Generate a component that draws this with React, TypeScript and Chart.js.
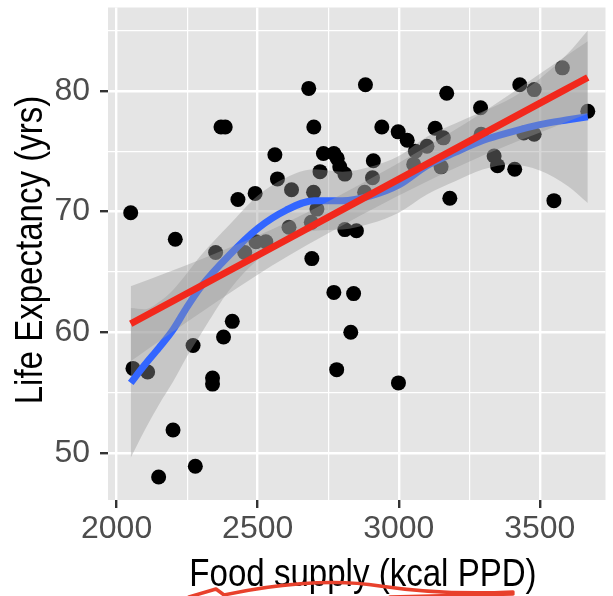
import React, { useEffect, useRef } from "react";
import { Chart, registerables } from "chart.js";

Chart.register(...registerables);

// Scatter data: food supply (kcal per person per day) vs life expectancy (years)
const foodSupply = [
  2050, 2058, 2110, 2149, 2200, 2208, 2271, 2279, 2340, 2340,
  2351, 2370, 2385, 2379, 2410, 2430, 2454, 2491, 2494, 2529,
  2561, 2570, 2611, 2620, 2681, 2690, 2692, 2698, 2699, 2710,
  2721, 2733, 2770, 2770, 2780, 2782, 2791, 2809, 2809, 2830,
  2840, 2850, 2879, 2882, 2907, 2910, 2940, 2998, 2999, 3030,
  3053, 3059, 3100, 3129, 3150, 3158, 3170, 3181, 3290, 3292,
  3338, 3350, 3411, 3429, 3443, 3480, 3480, 3550, 3580, 3670,
];
const lifeExpectancy = [
  69.9, 57.0, 56.7, 48.0, 51.9, 67.7, 58.9, 48.9, 56.2, 55.7,
  66.6, 77.0, 77.0, 59.6, 60.9, 71.0, 66.6, 71.5, 67.5, 67.5,
  74.7, 72.7, 68.7, 71.8, 80.2, 69.1, 66.1, 71.6, 77.0, 70.2,
  73.3, 74.8, 74.8, 63.3, 56.9, 74.4, 73.7, 73.1, 68.5, 60.0,
  63.2, 68.4, 71.6, 80.5, 72.8, 74.2, 77.0, 76.6, 55.8, 75.9,
  73.9, 75.0, 75.4, 76.9, 73.7, 76.1, 79.8, 71.1, 78.6, 76.4,
  74.6, 73.8, 73.5, 80.5, 76.5, 80.1, 76.4, 70.9, 81.9, 78.3,
];

// LOESS smooth (blue) with its confidence band
const loessX = [2050, 2100, 2150, 2200, 2250, 2300, 2400, 2500, 2600, 2700, 2800, 2900, 3000, 3100, 3200, 3300, 3400, 3500, 3600, 3670];
const loessFit = [55.8, 57.3, 58.7, 60.2, 62.1, 63.8, 66.4, 68.6, 70.1, 70.9, 70.9, 71.3, 72.2, 73.8, 74.9, 75.9, 76.6, 77.2, 77.6, 77.85];
const loessUpper = [62.0, 61.9, 62.5, 63.5, 64.9, 66.4, 68.9, 71.3, 72.8, 73.5, 73.3, 73.7, 74.6, 76.2, 77.3, 78.3, 79.4, 81.0, 83.1, 85.0];
const loessLower = [49.6, 51.9, 54.0, 55.9, 58.0, 59.9, 63.5, 66.0, 67.6, 68.4, 68.5, 69.0, 69.9, 71.4, 72.5, 73.5, 73.9, 73.4, 72.1, 70.7];

// Linear fit (red) with its confidence band
const lmX = [2050, 2300, 2550, 2800, 3050, 3300, 3550, 3670];
const lmFit = [60.7, 63.85, 67.0, 70.15, 73.3, 76.45, 79.6, 81.1];
const lmUpper = [63.8, 66.05, 68.5, 71.45, 74.7, 78.25, 82.2, 84.1];
const lmLower = [57.6, 61.65, 65.5, 68.85, 71.9, 74.65, 77.0, 78.1];

// Axis ticks (major are labelled, the rest are minor grid lines)
const xGridValues = [2000, 2250, 2500, 2750, 3000, 3250, 3500];
const yGridValues = [50, 55, 60, 65, 70, 75, 80, 85];
const xMajorTicks = [2000, 2500, 3000, 3500];
const yMajorTicks = [50, 60, 70, 80];

const xTitle = "Food supply (kcal PPD)";
const yTitle = "Life Expectancy (yrs)";

const zip = (xs: number[], ys: number[]) => xs.map((x, i) => ({ x, y: ys[i] }));

const RIBBON = "rgba(153,153,153,0.4)";

const panelPlugin = {
  id: "panelBg",
  beforeDraw(chart: any) {
    const { ctx, chartArea } = chart;
    ctx.save();
    ctx.fillStyle = "#E5E5E5";
    ctx.fillRect(chartArea.left, chartArea.top, chartArea.right - chartArea.left, chartArea.bottom - chartArea.top);
    ctx.restore();
  },
};

const titlesPlugin = {
  id: "axisTitles",
  afterDraw(chart: any) {
    const { ctx } = chart;
    ctx.save();
    ctx.fillStyle = "#000000";
    ctx.font = "38px 'Liberation Sans', Arial, sans-serif";
    ctx.textAlign = "center";
    ctx.textBaseline = "alphabetic";
    ctx.save();
    ctx.translate(363, 586);
    ctx.scale(0.87, 1);
    ctx.fillText(xTitle, 0, 0);
    ctx.restore();
    ctx.save();
    ctx.translate(42, 250);
    ctx.rotate(-Math.PI / 2);
    ctx.scale(0.87, 1);
    ctx.fillText(yTitle, 0, 0);
    ctx.restore();
    ctx.restore();
  },
};

const squigglePlugin = {
  id: "squiggle",
  afterDraw(chart: any) {
    const { ctx } = chart;
    ctx.save();
    ctx.strokeStyle = "#E8412C";
    ctx.lineWidth = 3.5;
    ctx.lineCap = "round";
    ctx.lineJoin = "round";
    ctx.beginPath();
    ctx.moveTo(189, 597);
    ctx.lineTo(216, 589);
    ctx.lineTo(224, 595);
    ctx.bezierCurveTo(270, 585, 330, 578, 380, 586);
    ctx.bezierCurveTo(420, 592, 470, 594, 513, 592);
    ctx.stroke();
    ctx.beginPath();
    ctx.moveTo(390, 597);
    ctx.lineTo(513, 594);
    ctx.stroke();
    ctx.restore();
  },
};

export default function App() {
  const ref = useRef<HTMLCanvasElement | null>(null);

  useEffect(() => {
    if (!ref.current) return;
    const tickFont = { family: "'Liberation Sans', Arial, sans-serif", size: 32 };
    const isMajorX = (v: number) => xMajorTicks.includes(v);
    const isMajorY = (v: number) => yMajorTicks.includes(v);

    const chart = new Chart(ref.current, {
      type: "scatter",
      data: {
        datasets: [
          {
            type: "scatter",
            label: "points",
            data: zip(foodSupply, lifeExpectancy),
            backgroundColor: "#000000",
            borderWidth: 0,
            pointRadius: 7.5,
            order: 50,
          } as any,
          {
            type: "line",
            label: "loess upper",
            data: zip(loessX, loessUpper),
            borderWidth: 0,
            pointRadius: 0,
            backgroundColor: RIBBON,
            fill: "+1",
            cubicInterpolationMode: "monotone",
            order: 40,
          },
          {
            type: "line",
            label: "loess lower",
            data: zip(loessX, loessLower),
            borderWidth: 0,
            pointRadius: 0,
            fill: false,
            cubicInterpolationMode: "monotone",
            order: 41,
          },
          {
            type: "line",
            label: "loess",
            data: zip(loessX, loessFit),
            borderColor: "#3366FF",
            borderWidth: 7,
            pointRadius: 0,
            fill: false,
            cubicInterpolationMode: "monotone",
            order: 30,
          },
          {
            type: "line",
            label: "lm upper",
            data: zip(lmX, lmUpper),
            borderWidth: 0,
            pointRadius: 0,
            backgroundColor: RIBBON,
            fill: "+1",
            cubicInterpolationMode: "monotone",
            order: 20,
          },
          {
            type: "line",
            label: "lm lower",
            data: zip(lmX, lmLower),
            borderWidth: 0,
            pointRadius: 0,
            fill: false,
            cubicInterpolationMode: "monotone",
            order: 21,
          },
          {
            type: "line",
            label: "lm",
            data: zip(lmX, lmFit),
            borderColor: "#F2281C",
            borderWidth: 7,
            pointRadius: 0,
            fill: false,
            tension: 0,
            order: 10,
          },
        ],
      },
      options: {
        animation: false,
        responsive: false,
        events: [],
        layout: { padding: { top: 3, right: 0, bottom: 0, left: 0 } },
        plugins: {
          legend: { display: false },
          tooltip: { enabled: false },
          filler: { propagate: false },
        },
        scales: {
          x: {
            type: "linear",
            min: 1969.5,
            max: 3732.8,
            afterBuildTicks: (s: any) => {
              s.ticks = xGridValues.map((value) => ({ value }));
            },
            afterFit: (s: any) => {
              s.height = 96;
              s.paddingLeft = 0;
              s.paddingRight = 0;
              s.paddingTop = 0;
              s.paddingBottom = 0;
            },
            border: { display: false },
            grid: {
              color: "#FFFFFF",
              lineWidth: (c: any) => (c.tick && isMajorX(c.tick.value) ? 2.4 : 1.2),
              tickColor: (c: any) => (c.tick && isMajorX(c.tick.value) ? "#333333" : "rgba(0,0,0,0)"),
              tickLength: 8,
              tickWidth: 2.4,
            },
            ticks: {
              autoSkip: false,
              maxRotation: 0,
              minRotation: 0,
              padding: 2,
              color: "#4D4D4D",
              font: tickFont,
              callback: (v: any) => (isMajorX(Number(v)) ? String(v) : ""),
            },
            title: { display: false },
          },
          y: {
            type: "linear",
            min: 46.1,
            max: 86.9,
            afterBuildTicks: (s: any) => {
              s.ticks = yGridValues.map((value) => ({ value }));
            },
            afterFit: (s: any) => {
              s.width = 108;
              s.paddingLeft = 0;
              s.paddingRight = 0;
              s.paddingTop = 0;
              s.paddingBottom = 0;
            },
            border: { display: false },
            grid: {
              color: "#FFFFFF",
              lineWidth: (c: any) => (c.tick && isMajorY(c.tick.value) ? 2.4 : 1.2),
              tickColor: (c: any) => (c.tick && isMajorY(c.tick.value) ? "#333333" : "rgba(0,0,0,0)"),
              tickLength: 8,
              tickWidth: 2.4,
            },
            ticks: {
              autoSkip: false,
              padding: 10,
              color: "#4D4D4D",
              font: tickFont,
              callback: (v: any) => (isMajorY(Number(v)) ? String(v) : ""),
            },
            title: { display: false },
          },
        },
      } as any,
      plugins: [panelPlugin, titlesPlugin, squigglePlugin],
    });
    return () => chart.destroy();
  }, []);

  return (
    <div style={{ position: "absolute", left: 0, top: 0, width: 613, height: 596, background: "#FFFFFF" }}>
      <canvas ref={ref} width={613} height={596} style={{ display: "block", width: 613, height: 596 }} />
    </div>
  );
}
